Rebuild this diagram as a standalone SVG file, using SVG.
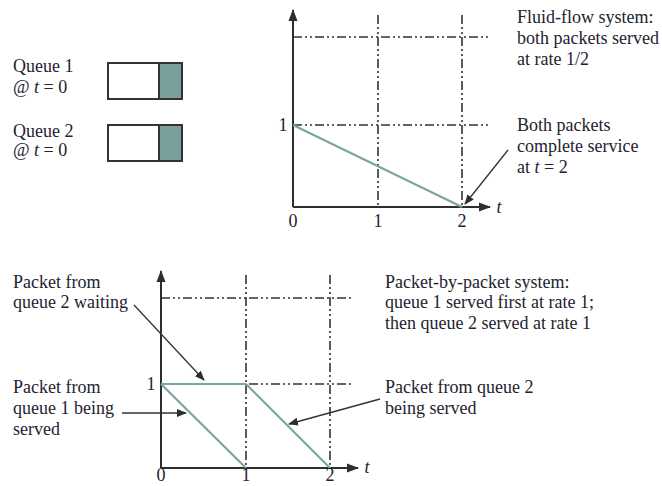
<svg xmlns="http://www.w3.org/2000/svg" width="662" height="486" viewBox="0 0 662 486">
<style>
text{font-family:"Liberation Serif","Times New Roman",serif;font-size:18px;fill:#23232f}
.ax{stroke:#2e2e2e;stroke-width:2;fill:none}
.dd{stroke:#333;stroke-width:1.6;fill:none;stroke-dasharray:9 3 2 3 2 3}
.tl{stroke:#7ba5a0;stroke-width:2.2;fill:none}
.co{stroke:#333;stroke-width:1.3;fill:none}
.box{stroke:#333;stroke-width:2;fill:#fff}
.fill{stroke:#333;stroke-width:2;fill:#789f9b}
.c{text-anchor:middle}
</style>
<defs>
<marker id="ah" viewBox="0 0 10 10" refX="9" refY="5" markerWidth="10" markerHeight="10" markerUnits="userSpaceOnUse" orient="auto"><path d="M0,1 L10,5 L0,9 z" fill="#2e2e2e"/></marker>
<marker id="aa" viewBox="0 0 12 10" refX="11" refY="5" markerWidth="12" markerHeight="10" markerUnits="userSpaceOnUse" orient="auto"><path d="M0,0.5 L12,5 L0,9.5 z" fill="#2e2e2e"/></marker>
</defs>
<g id="queue1">
<text x="13" y="72">Queue 1</text>
<text x="13" y="93">@ <tspan font-style="italic">t</tspan> = 0</text>
<rect class="box" x="108" y="63" width="74" height="36"/>
<rect class="fill" x="159" y="63" width="23" height="36"/>
</g>
<g id="queue2">
<text x="13" y="137">Queue 2</text>
<text x="13" y="156">@ <tspan font-style="italic">t</tspan> = 0</text>
<rect class="box" x="108" y="125" width="74" height="36"/>
<rect class="fill" x="159" y="125" width="23" height="36"/>
</g>
<g id="chart-fluid">
<line class="dd" x1="293" y1="37" x2="488" y2="37"/>
<line class="dd" x1="293" y1="125" x2="488" y2="125"/>
<line class="dd" x1="378" y1="15" x2="378" y2="207"/>
<line class="dd" x1="462" y1="15" x2="462" y2="207"/>
<line class="ax" x1="293" y1="207" x2="293" y2="10" marker-end="url(#aa)"/>
<line class="ax" x1="293" y1="207" x2="490" y2="207" marker-end="url(#aa)"/>
<line class="tl" x1="293" y1="125" x2="462" y2="207"/>
<text x="283" y="131" class="c">1</text>
<text x="293" y="227" class="c">0</text>
<text x="378" y="227" class="c">1</text>
<text x="462" y="227" class="c">2</text>
<text x="499" y="213" class="c" font-style="italic">t</text>
</g>
<g id="label-fluid">
<text x="517" y="23">Fluid-flow system:</text>
<text x="517" y="44">both packets served</text>
<text x="517" y="65">at rate 1/2</text>
</g>
<g id="label-complete">
<text x="517" y="131">Both packets</text>
<text x="517" y="152">complete service</text>
<text x="517" y="173">at <tspan font-style="italic">t</tspan> = 2</text>
</g>
<g id="chart-packet">
<line class="dd" x1="161" y1="298" x2="353" y2="298"/>
<line class="dd" x1="161" y1="384" x2="353" y2="384"/>
<line class="dd" x1="246" y1="275" x2="246" y2="468"/>
<line class="dd" x1="330" y1="275" x2="330" y2="468"/>
<line class="ax" x1="161" y1="468" x2="161" y2="271" marker-end="url(#aa)"/>
<line class="ax" x1="161" y1="468" x2="358" y2="468" marker-end="url(#aa)"/>
<line class="tl" x1="161" y1="384" x2="246" y2="384"/>
<line class="tl" x1="161" y1="384" x2="246" y2="468"/>
<line class="tl" x1="246" y1="384" x2="330" y2="468"/>
<text x="151" y="390" class="c">1</text>
<text x="161" y="481" class="c">0</text>
<text x="246" y="481" class="c">1</text>
<text x="330" y="481" class="c">2</text>
<text x="367" y="473" class="c" font-style="italic">t</text>
</g>
<g id="label-waiting">
<text x="13" y="288">Packet from</text>
<text x="13" y="308">queue 2 waiting</text>
</g>
<g id="label-q1served">
<text x="13" y="393">Packet from</text>
<text x="13" y="414">queue 1 being</text>
<text x="13" y="435">served</text>
</g>
<g id="label-pbp">
<text x="385" y="288">Packet-by-packet system:</text>
<text x="385" y="308">queue 1 served first at rate 1;</text>
<text x="385" y="329">then queue 2 served at rate 1</text>
</g>
<g id="label-q2served">
<text x="385" y="393">Packet from queue 2</text>
<text x="385" y="414">being served</text>
</g>
<g id="connectors">
<line class="co" x1="508" y1="150" x2="465" y2="204" marker-end="url(#ah)"/>
<line class="co" x1="134" y1="305" x2="204" y2="380" marker-end="url(#ah)"/>
<line class="co" x1="122" y1="413" x2="186" y2="413" marker-end="url(#ah)"/>
<line class="co" x1="380" y1="399" x2="289" y2="424" marker-end="url(#ah)"/>
</g>
</svg>
